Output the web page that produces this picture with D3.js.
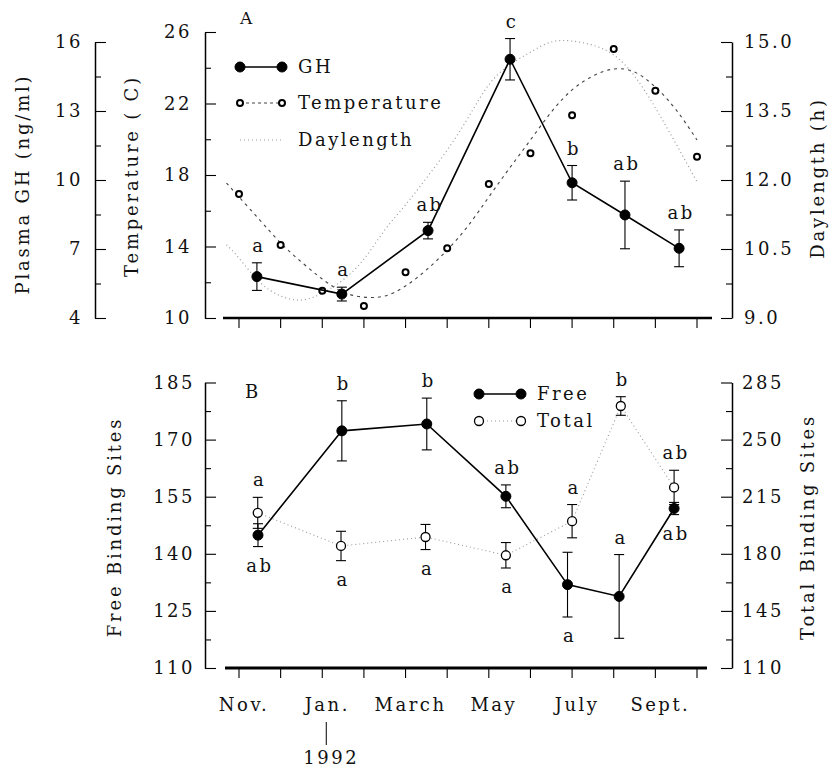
<!DOCTYPE html>
<html>
<head>
<meta charset="utf-8">
<script src="https://cdnjs.cloudflare.com/ajax/libs/d3/7.8.5/d3.min.js"></script>
<style>
  body { margin: 0; background: #fff; }
  svg text { font-family: "DejaVu Serif", serif; fill: #111; letter-spacing: 2.5px; }
  .axis .domain { stroke: #000; stroke-width: 1.5; }
  .axis .tick line { stroke: #000; stroke-width: 1.1; }
</style>
</head>
<body>
<div id="chart"></div>
<script>
// month index: 0 = Nov 1 1991 ... 11 = Oct 1 1992
const monthLabels = ['Nov.', 'Jan.', 'March', 'May', 'July', 'Sept.'],
    monthLabelAt = [0, 2, 4, 6, 8, 10],
    monthTicks = [0, 1, 2, 3, 4, 5, 6, 7, 8, 9, 10, 11];

// panel A
const ghMonths = [0.43, 2.47, 4.54, 6.51, 8.0, 9.27, 10.57],
    ghMean = [5.80, 5.04, 7.80, 15.25, 9.88, 8.48, 7.03],
    ghErr = [0.6, 0.3, 0.36, 0.9, 0.75, 1.47, 0.8],
    ghLetters = ['a', 'a', 'ab', 'c', 'b', 'ab', 'ab'];

const tempMonths = [0, 1, 2, 3, 4, 5, 6, 7, 8, 9, 10, 11],
    tempValues = [16.94, 14.08, 11.53, 10.67, 12.56, 13.90, 17.50, 19.21, 21.34, 25.05, 22.72, 19.02];

const fitMonths = [-0.3, 0, 0.5, 1, 1.5, 2, 2.5, 3, 3.5, 4, 4.5, 5, 5.5, 6, 6.5, 7, 7.5, 8, 8.5, 9, 9.5, 10, 10.5, 11],
    tempFit = [17.55, 16.77, 15.48, 14.20, 13.13, 12.18, 11.45, 11.17, 11.23, 11.79, 12.69, 13.80,
        15.15, 16.77, 18.39, 19.96, 21.52, 22.76, 23.54, 23.93, 23.76, 22.92, 21.64, 19.96],
    dayLength = [10.59, 10.30, 9.78, 9.48, 9.39, 9.54, 9.83, 10.28, 10.91, 11.46, 12.04, 12.65,
        13.35, 14.07, 14.5, 14.78, 15.0, 15.02, 14.93, 14.72, 14.26, 13.57, 12.78, 11.96];

const ghTicks = [4, 7, 10, 13, 16], ghMinor = [5.5, 8.5, 11.5, 14.5],
    tempTicks = [10, 14, 18, 22, 26], tempMinor = [12, 16, 20, 24],
    dayTicks = [9, 10.5, 12, 13.5, 15], dayMinor = [9.75, 11.25, 12.75, 14.25];

// panel B
const freeMonths = [0.456, 2.47, 4.51, 6.41, 7.89, 9.13, 10.45],
    freeMean = [144.9, 172.3, 174.1, 155.1, 131.9, 128.8, 151.9],
    freeErr = [3, 7.9, 6.8, 3, 8.5, 11, 1.6],
    freeLetters = ['ab', 'b', 'b', 'ab', 'a', 'a', 'ab'],
    freeSide = ['below', 'above', 'above', 'above', 'below', 'above', 'below'];

const totalMonths = [0.45, 2.45, 4.48, 6.41, 8.0, 9.17, 10.45],
    totalMean = [205.1, 184.8, 190.3, 179.1, 200, 270.6, 220.7],
    totalErr = [9.5, 9, 7.7, 7.8, 10.2, 5.7, 10.5],
    totalLetters = ['a', 'a', 'a', 'a', 'a', 'b', 'ab'],
    totalSide = ['above', 'below', 'below', 'below', 'above', 'above', 'above'];

const freeTicks = [110, 125, 140, 155, 170, 185], freeMinor = [117.5, 132.5, 147.5, 162.5, 177.5],
    totalTicks = [110, 145, 180, 215, 250, 285], totalMinor = [127.5, 162.5, 197.5, 232.5, 267.5];

const svg = d3.select('#chart').append('svg')
    .attr('width', 831)
    .attr('height', 773);

const x = d3.scaleLinear().domain([0, 11]).range([239, 697]);

const yGH = d3.scaleLinear().domain([4, 16]).range([318, 42]),
    yTemp = d3.scaleLinear().domain([10, 26]).range([318, 32]),
    yDay = d3.scaleLinear().domain([9, 15]).range([318, 42]);

const yFree = d3.scaleLinear().domain([110, 185]).range([668, 382.5]),
    yTotal = d3.scaleLinear().domain([110, 285]).range([668, 382.5]);

// y axes with inward ticks, labels outside
function yAxis(scale, xPos, side, major, minor, labelX, fmt) {
    const make = side === 'left' ? d3.axisRight : d3.axisLeft;
    const g = svg.append('g').attr('class', 'axis').attr('transform', `translate(${xPos},0)`);
    g.call(make(scale).tickValues(major).tickSize(11).tickSizeOuter(0).tickFormat(''));
    g.append('g').call(make(scale).tickValues(minor).tickSize(6).tickSizeOuter(0).tickFormat(''))
        .select('.domain').remove();
    g.selectAll('.tick line').attr('stroke', '#000');
    svg.append('g').selectAll('text')
        .data(major).enter().append('text')
        .attr('x', labelX)
        .attr('y', d => scale(d))
        .attr('dy', '0.36em')
        .attr('text-anchor', side === 'left' ? 'end' : 'start')
        .style('font-size', '18px')
        .text(fmt);
}

yAxis(yGH, 95, 'left', ghTicks, ghMinor, 83, d => d);
yAxis(yTemp, 205, 'left', tempTicks, tempMinor, 192, d => d);
yAxis(yDay, 732, 'right', dayTicks, dayMinor, 744, d3.format('.1f'));
yAxis(yFree, 205, 'left', freeTicks, freeMinor, 195, d => d);
yAxis(yTotal, 732, 'right', totalTicks, totalMinor, 742, d => d);

// x axes
function xAxis(yPos, x0, x1, w) {
    svg.append('line').attr('x1', x0).attr('x2', x1).attr('y1', yPos).attr('y2', yPos)
        .attr('stroke', '#000').attr('stroke-width', w);
    svg.append('g').selectAll('line').data(monthTicks).enter().append('line')
        .attr('x1', d => x(d)).attr('x2', d => x(d))
        .attr('y1', yPos).attr('y2', yPos + 10)
        .attr('stroke', '#000').attr('stroke-width', 1.1);
}
xAxis(318, 223, 712, 2.5);
xAxis(668, 225, 707, 3);

svg.append('g').selectAll('text').data(monthLabels).enter().append('text')
    .attr('x', (d, i) => x(monthLabelAt[i]) + 5)
    .attr('y', 711)
    .attr('text-anchor', 'middle')
    .style('font-size', '18px')
    .text(d => d);

svg.append('line').attr('x1', x(2) + 4).attr('x2', x(2) + 4).attr('y1', 722).attr('y2', 745)
    .attr('stroke', '#000').attr('stroke-width', 1);
svg.append('text').attr('x', x(2) + 9).attr('y', 764).attr('text-anchor', 'middle')
    .style('font-size', '18px').text('1992');

// axis titles
function vTitle(txt, cx, cy) {
    svg.append('text')
        .attr('transform', `translate(${cx},${cy}) rotate(-90)`)
        .attr('text-anchor', 'middle')
        .attr('dy', '0.35em')
        .style('font-size', '18px')
        .style('letter-spacing', '2.8px')
        .text(txt);
}
vTitle('Plasma GH (ng/ml)', 23, 184);
vTitle('Temperature ( C)', 132, 176);
vTitle('Daylength (h)', 818, 178);
vTitle('Free Binding Sites', 115, 527);
vTitle('Total Binding Sites', 808, 527);

svg.append('text').attr('x', 240).attr('y', 24).style('font-size', '17px').text('A');
svg.append('text').attr('x', 245).attr('y', 398).style('font-size', '18px').text('B');

// panel A curves
const fitTemp = fitMonths.map((m, i) => [m, tempFit[i]]),
    fitDay = fitMonths.map((m, i) => [m, dayLength[i]]);

svg.append('path')
    .attr('d', d3.line().x(d => x(d[0])).y(d => yDay(d[1])).curve(d3.curveNatural)(fitDay))
    .attr('fill', 'none').attr('stroke', '#999').attr('stroke-width', 1.2)
    .attr('stroke-dasharray', '1,3');

svg.append('path')
    .attr('d', d3.line().x(d => x(d[0])).y(d => yTemp(d[1])).curve(d3.curveNatural)(fitTemp))
    .attr('fill', 'none').attr('stroke', '#444').attr('stroke-width', 1.1)
    .attr('stroke-dasharray', '3,4');

svg.append('g').selectAll('circle').data(tempValues).enter().append('circle')
    .attr('cx', (d, i) => x(tempMonths[i]))
    .attr('cy', d => yTemp(d))
    .attr('r', 3)
    .attr('fill', '#fff').attr('stroke', '#000').attr('stroke-width', 2);

// mean +/- error series
function series(months, mean, err, yS, opts) {
    const g = svg.append('g');
    const pts = months.map((m, i) => ({ m, v: mean[i], e: err[i], i }));
    g.append('path')
        .attr('d', d3.line().x(d => x(d.m)).y(d => yS(d.v))(pts))
        .attr('fill', 'none').attr('stroke', opts.lineColor)
        .attr('stroke-width', opts.lineWidth)
        .attr('stroke-dasharray', opts.dash || null);
    const eb = g.selectAll('.eb').data(pts).enter().append('g');
    eb.append('line')
        .attr('x1', d => x(d.m)).attr('x2', d => x(d.m))
        .attr('y1', d => yS(d.v + d.e)).attr('y2', d => yS(d.v - d.e))
        .attr('stroke', '#000').attr('stroke-width', 1.1);
    [1, -1].forEach(s => {
        eb.append('line')
            .attr('x1', d => x(d.m) - 5).attr('x2', d => x(d.m) + 5)
            .attr('y1', d => yS(d.v + s * d.e)).attr('y2', d => yS(d.v + s * d.e))
            .attr('stroke', '#000').attr('stroke-width', 1.1);
    });
    g.selectAll('circle').data(pts).enter().append('circle')
        .attr('cx', d => x(d.m)).attr('cy', d => yS(d.v))
        .attr('r', opts.r)
        .attr('fill', opts.filled ? '#000' : '#fff')
        .attr('stroke', '#000').attr('stroke-width', opts.filled ? 1 : 1.3);
    g.selectAll('.lab').data(pts).enter().append('text')
        .attr('x', d => x(d.m) + 2)
        .attr('y', d => opts.side[d.i] === 'above' ? yS(d.v + d.e) - 11 : yS(d.v - d.e) + 25)
        .attr('text-anchor', 'middle')
        .style('font-size', '18px')
        .text(d => opts.letters[d.i]);
}

series(ghMonths, ghMean, ghErr, yGH, {
    lineColor: '#000', lineWidth: 1.6, r: 5, filled: true,
    letters: ghLetters, side: ghLetters.map(() => 'above')
});

// panel B
series(totalMonths, totalMean, totalErr, yTotal, {
    lineColor: '#999', lineWidth: 1.1, dash: '1,3', r: 4.5, filled: false,
    letters: totalLetters, side: totalSide
});
series(freeMonths, freeMean, freeErr, yFree, {
    lineColor: '#000', lineWidth: 1.6, r: 5, filled: true,
    letters: freeLetters, side: freeSide
});

// legends
function legendRow(lx, ly, label, kind) {
    const g = svg.append('g');
    const style = {
        gh: { stroke: '#000', w: 1.6, dash: null, r: 5, fill: '#000', sw: 1 },
        temp: { stroke: '#444', w: 1.1, dash: '3,3', r: 3, fill: '#fff', sw: 2 },
        day: { stroke: '#999', w: 1.2, dash: '1,3', r: 0 },
        free: { stroke: '#000', w: 1.6, dash: null, r: 5, fill: '#000', sw: 1 },
        total: { stroke: '#999', w: 1.1, dash: '1,3', r: 4.5, fill: '#fff', sw: 1.3 }
    }[kind];
    g.append('line').attr('x1', lx).attr('x2', lx + 42).attr('y1', ly).attr('y2', ly)
        .attr('stroke', style.stroke).attr('stroke-width', style.w)
        .attr('stroke-dasharray', style.dash);
    if (style.r) {
        [lx, lx + 42].forEach(cx => g.append('circle').attr('cx', cx).attr('cy', ly)
            .attr('r', style.r).attr('fill', style.fill).attr('stroke', '#000')
            .attr('stroke-width', style.sw));
    }
    g.append('text').attr('x', lx + 58).attr('y', ly).attr('dy', '0.36em')
        .style('font-size', '18px').text(label);
}
legendRow(240, 67, 'GH', 'gh');
legendRow(240, 103, 'Temperature', 'temp');
legendRow(240, 140, 'Daylength', 'day');
legendRow(479, 394, 'Free', 'free');
legendRow(479, 421, 'Total', 'total');
</script>
</body>
</html>
